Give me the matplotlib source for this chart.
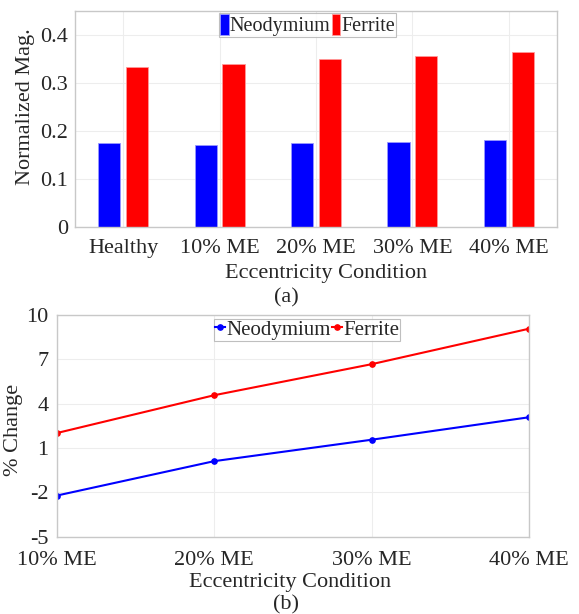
import matplotlib
matplotlib.use('Agg')
import matplotlib.pyplot as plt
import numpy as np

plt.rcParams['font.family'] = ['Liberation Serif', 'DejaVu Serif']
plt.rcParams['font.size'] = 16
plt.rcParams['axes.unicode_minus'] = False
plt.rcParams['text.color'] = '#262626'
plt.rcParams['axes.labelcolor'] = '#262626'
plt.rcParams['xtick.color'] = '#262626'
plt.rcParams['ytick.color'] = '#262626'

# (a) normalized magnitude
conditions = ['Healthy', '10% ME', '20% ME', '30% ME', '40% ME']
neo_mag = [0.175, 0.171, 0.175, 0.178, 0.181]
ferrite_mag = [0.333, 0.340, 0.349, 0.356, 0.364]

# (b) percent change
ecc_conditions = ['10% ME', '20% ME', '30% ME', '40% ME']
neo_change = [-2.22, 0.11, 1.56, 3.08]
ferrite_change = [2.01, 4.57, 6.67, 9.07]

fig = plt.figure(figsize=(5.79, 6.14), dpi=100)
grid_col = '#ededed'
spine_col = '#c8c8c8'


def style_axes(ax):
    for s in ax.spines.values():
        s.set_color(spine_col)
        s.set_linewidth(1.0)
    ax.tick_params(length=0, pad=5)
    ax.grid(True, color=grid_col, linewidth=0.8)
    ax.set_axisbelow(True)


ax1 = fig.add_axes([0.1295, 0.6303, 0.8325, 0.3518])
x = np.arange(1, len(conditions) + 1)
ax1.bar(x - 0.145, neo_mag, width=0.23, color='#0000ff',
        edgecolor='#9999ff', linewidth=0.6, label='Neodymium')
ax1.bar(x + 0.145, ferrite_mag, width=0.23, color='#ff0000',
        edgecolor='#ff9999', linewidth=0.6, label='Ferrite')
ax1.set_xlim(0.5, 5.5)
ax1.set_ylim(0, 0.45)
ax1.set_yticks([0, 0.1, 0.2, 0.3, 0.4])
ax1.set_yticklabels(['0', '0.1', '0.2', '0.3', '0.4'])
ax1.set_xticks(x)
ax1.set_xticklabels(conditions)
style_axes(ax1)
ax1.tick_params(axis='x', pad=9)
ax1.set_xlabel('Eccentricity Condition')
ax1.xaxis.set_label_coords(0.52, -0.17)
ax1.set_ylabel('Normalized Mag.')
ax1.yaxis.set_label_coords(-0.083, 0.558)
leg1 = ax1.legend(loc='upper center', bbox_to_anchor=(0.483, 1.0), ncol=2,
                  fontsize=14.5, frameon=True, fancybox=False,
                  edgecolor='#b0b0b0', handlelength=0.4, handleheight=1.2,
                  handletextpad=0.05, columnspacing=0.1, borderpad=0.05,
                  borderaxespad=0.1)
leg1.get_frame().set_linewidth(0.8)

fig.text(286 / 579, 1 - 298 / 614, '(a)', ha='center', va='center')

ax2 = fig.add_axes([0.0979, 0.1259, 0.8157, 0.3611])
xb = np.arange(1, len(ecc_conditions) + 1)
ax2.plot(xb, neo_change, color='#0000ff', linewidth=1.5, marker='o',
         markersize=3.8, label='Neodymium')
ax2.plot(xb, ferrite_change, color='#ff0000', linewidth=1.5, marker='o',
         markersize=3.8, label='Ferrite')
ax2.set_xlim(1, 4)
ax2.set_ylim(-5, 10)
ax2.set_yticks([-5, -2, 1, 4, 7, 10])
ax2.set_xticks(xb)
ax2.set_xticklabels(ecc_conditions)
style_axes(ax2)
ax2.tick_params(axis='y', pad=6)
ax2.tick_params(axis='x', pad=10)
ax2.set_xlabel('Eccentricity Condition')
ax2.xaxis.set_label_coords(0.494, -0.165)
ax2.set_ylabel('% Change')
ax2.yaxis.set_label_coords(-0.071, 0.481)
leg2 = ax2.legend(loc='upper center', bbox_to_anchor=(0.53, 1.0), ncol=2,
                  fontsize=15, frameon=True, fancybox=False,
                  edgecolor='#b0b0b0', handlelength=0.5, handletextpad=0.05,
                  columnspacing=0.05, borderpad=0.05, borderaxespad=0.2)
leg2.get_frame().set_linewidth(0.8)

fig.text(286 / 579, 1 - 605 / 614, '(b)', ha='center', va='center')

fig.savefig('out.png', dpi=100)
